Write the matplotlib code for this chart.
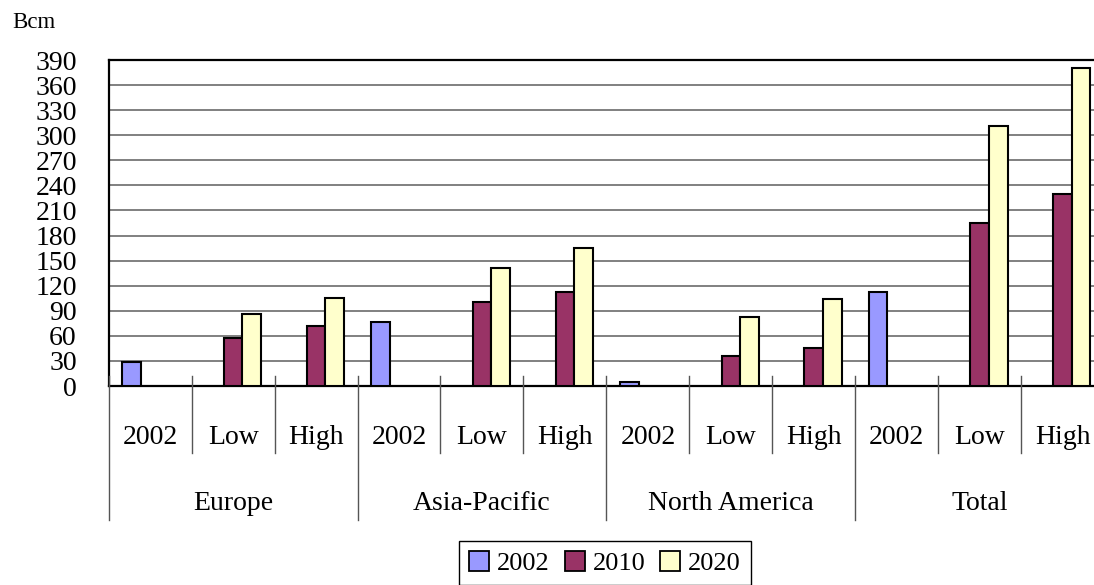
import numpy as np
import matplotlib
matplotlib.use("Agg")
import matplotlib.pyplot as plt
from matplotlib.patches import Patch

plt.rcParams["font.family"] = ["Liberation Serif", "DejaVu Serif"]

# ---- data (Bcm) ----
regions = ["Europe", "Asia-Pacific", "North America", "Total"]
cases = ["2002", "Low", "High"]
series_names = ["2002", "2010", "2020"]
nan = np.nan
vals_2002 = [29, nan, nan, 77, nan, nan, 5, nan, nan, 113, nan, nan]
vals_2010 = [nan, 58, 72, nan, 100, 113, nan, 36, 46, nan, 195, 230]
vals_2020 = [nan, 86, 105, nan, 141, 165, nan, 82, 104, nan, 311, 380]
y_ticks = list(range(0, 391, 30))

colors = ["#9999FF", "#993366", "#FFFFCC"]

W, H = 1094, 585
fig = plt.figure(figsize=(W / 100, H / 100), dpi=100)

# plot area in pixels
left_px, top_px, bottom_px = 108.7, 60.0, 386.0
cat_w_px = 82.95
n_cat = len(regions) * len(cases)
ax_h_px = bottom_px - top_px
ax = fig.add_axes([left_px / W, 1 - bottom_px / H,
                   n_cat * cat_w_px / W, ax_h_px / H])

x = np.arange(n_cat) + 0.5
bar_w = 0.224
offsets = [-bar_w, 0.0, bar_w]
for vals, off, col in zip([vals_2002, vals_2010, vals_2020], offsets, colors):
    v = np.asarray(vals, dtype=float)
    m = ~np.isnan(v)
    ax.bar(x[m] + off, v[m], width=bar_w, color=col, edgecolor="black",
           linewidth=1.5, zorder=3)

ax.set_xlim(0, n_cat)
ax.set_ylim(0, 390)
ax.set_yticks(y_ticks)
ax.set_yticklabels([str(t) for t in y_ticks], fontsize=20)
ax.tick_params(axis="y", length=0, pad=23)
ax.set_xticks([])
ax.yaxis.grid(True, color="#808080", linewidth=1.4, zorder=0)
ax.set_axisbelow(True)
for s in ["top", "left", "bottom", "right"]:
    ax.spines[s].set_color("black")
    ax.spines[s].set_linewidth(1.6)

# multi-level category axis
def frac(px_below):
    return -px_below / ax_h_px

xt = ax.get_xaxis_transform()
n_case = len(cases)
for k in range(n_cat + 1):
    is_group = (k % n_case == 0)
    y0 = frac(-10)
    y1 = frac(520 - bottom_px) if is_group else frac(453 - bottom_px)
    ax.plot([k, k], [y0, y1], transform=xt, color="#555555", linewidth=1.0,
            clip_on=False, zorder=4)

for i in range(n_cat):
    ax.text(i + 0.5, frac(438 - bottom_px), cases[i % n_case], transform=xt,
            ha="center", va="center", fontsize=20)
for g, name in enumerate(regions):
    ax.text(g * n_case + n_case / 2, frac(504 - bottom_px), name, transform=xt,
            ha="center", va="center", fontsize=20)

fig.text(12 / W, 1 - 22 / H, "Bcm", ha="left", va="center", fontsize=16.5)

handles = [Patch(facecolor=c, edgecolor="black", linewidth=1.3) for c in colors]
leg = fig.legend(handles, series_names, loc="center", ncol=3,
                 bbox_to_anchor=(605 / W, 1 - 563 / H), fontsize=19,
                 handlelength=0.76, handleheight=0.76, handletextpad=0.3,
                 columnspacing=0.56, borderpad=0.38, fancybox=False,
                 framealpha=1, edgecolor="black")
leg.get_frame().set_linewidth(1.0)

fig.savefig("out.png", dpi=100, facecolor="white")
